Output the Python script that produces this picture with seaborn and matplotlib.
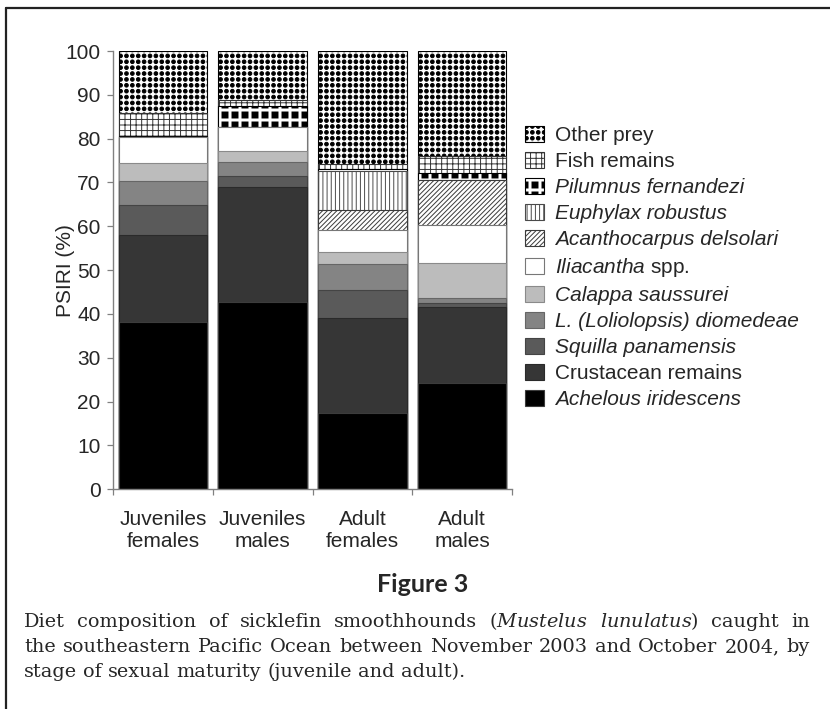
import numpy as np
import pandas as pd
import matplotlib
matplotlib.use("Agg")
import matplotlib.pyplot as plt
import matplotlib.hatch as mhatch
from matplotlib.path import Path
from matplotlib.patches import Patch
from matplotlib.lines import Line2D
import seaborn as sns

# ---------------------------------------------------------------- data
groups = ["Juveniles\nfemales", "Juveniles\nmales", "Adult\nfemales", "Adult\nmales"]

# prey categories, from the bottom of each stack to the top
prey = ["Achelous iridescens", "Crustacean remains", "Squilla panamensis",
        "L. (Loliolopsis) diomedeae", "Calappa saussurei", "Iliacantha spp.",
        "Acanthocarpus delsolari", "Euphylax robustus", "Pilumnus fernandezi",
        "Fish remains", "Other prey"]

achelous = [38.2, 42.7, 17.5, 24.2]
crustacean = [19.9, 26.3, 21.5, 17.3]
squilla = [6.8, 2.5, 6.5, 1.1]
loliolopsis = [5.4, 3.2, 5.8, 1.0]
calappa = [4.2, 2.5, 2.8, 8.0]
iliacantha = [5.9, 5.4, 5.1, 8.7]
acanthocarpus = [0.0, 0.0, 4.5, 10.3]
euphylax = [0.0, 0.0, 9.0, 0.0]
pilumnus = [0.2, 4.8, 0.3, 1.6]
fish = [5.3, 1.4, 1.2, 3.8]
other = [14.1, 11.2, 25.8, 24.0]

yticks = list(range(0, 101, 10))

caption_lines = [
    "Diet composition of sicklefin smoothhounds ($\\mathit{Mustelus}$ $\\mathit{lunulatus}$) caught in",
    "the southeastern Pacific Ocean between November 2003 and October 2004, by",
    "stage of sexual maturity (juvenile and adult).",
]


# ------------------------------------------------- custom fill patterns
class _GridShapes(mhatch.HatchPatternBase):
    """Filled shapes laid out on a square (non-staggered) grid."""
    char = None
    per_inch = 0
    size = 0.3
    shape_vertices = None
    shape_codes = None

    def __init__(self, hatch, density):
        self.num_rows = self.per_inch if self.char in hatch else 0
        self.num_vertices = self.num_rows * self.num_rows * len(self.shape_vertices)

    def set_vertices_and_codes(self, vertices, codes):
        n = self.num_rows
        step = 1.0 / n
        shape = self.shape_vertices * step * self.size
        vparts, cparts = [], []
        for r in range(n):
            for c in range(n):
                vparts.append(shape + [(c + 0.5) * step, (r + 0.5) * step])
                cparts.append(self.shape_codes)
        np.concatenate(vparts, out=vertices)
        np.concatenate(cparts, out=codes)


class GridDots(_GridShapes):
    char = "."
    per_inch = 17
    size = 0.31
    _c = Path.unit_circle()
    shape_vertices = _c.vertices
    shape_codes = _c.codes


class GridSquares(_GridShapes):
    char = "*"
    per_inch = 10
    size = 0.3
    shape_vertices = np.array([[-1, -1], [1, -1], [1, 1], [-1, 1], [-1, -1]], float)
    shape_codes = np.array([Path.MOVETO, Path.LINETO, Path.LINETO,
                            Path.LINETO, Path.CLOSEPOLY], dtype=Path.code_type)


mhatch._hatch_types[:] = [h for h in mhatch._hatch_types
                          if h not in (mhatch.SmallFilledCircles, mhatch.Stars)]
mhatch._hatch_types += [GridDots, GridSquares]

# ---------------------------------------------------------------- style
sns.set_style("ticks")
plt.rcParams["font.family"] = ["Liberation Sans", "DejaVu Sans"]
plt.rcParams["mathtext.fontset"] = "custom"
plt.rcParams["mathtext.rm"] = "Liberation Sans"
plt.rcParams["mathtext.it"] = "Liberation Sans:italic"
plt.rcParams["hatch.linewidth"] = 0.7

styles = {
    "Achelous iridescens":        dict(face="#000000", edge="#3c3c3c", hatch=None),
    "Crustacean remains":         dict(face="#363636", edge="#2a2a2a", hatch=None),
    "Squilla panamensis":         dict(face="#5a5a5a", edge="#444444", hatch=None),
    "L. (Loliolopsis) diomedeae": dict(face="#848484", edge="#666666", hatch=None),
    "Calappa saussurei":          dict(face="#bcbcbc", edge="#8a8a8a", hatch=None),
    "Iliacantha spp.":            dict(face="#ffffff", edge="#777777", hatch=None),
    "Acanthocarpus delsolari":    dict(face="#ffffff", edge="#3a3a3a", hatch="///////"),
    "Euphylax robustus":          dict(face="#ffffff", edge="#4a4a4a", hatch="||||"),
    "Pilumnus fernandezi":        dict(face="#ffffff", edge="#000000", hatch="*"),
    "Fish remains":               dict(face="#ffffff", edge="#333333", hatch="+++"),
    "Other prey":                 dict(face="#ffffff", edge="#000000", hatch="."),
}
legend_labels = {
    "Iliacantha spp.": "$\\mathit{Iliacantha}$ spp.",
}
upright = {"Crustacean remains", "Fish remains", "Other prey", "Iliacantha spp."}

# ---------------------------------------------------------------- table
df = pd.DataFrame(
    [achelous, crustacean, squilla, loliolopsis, calappa, iliacantha,
     acanthocarpus, euphylax, pilumnus, fish, other],
    index=prey, columns=groups).T
tops = df.cumsum(axis=1)

# ---------------------------------------------------------------- figure
W, H = 830, 709
fig = plt.figure(figsize=(W / 100, H / 100), dpi=100)
ax = fig.add_axes([113 / W, (H - 489.3) / H, 399 / W, 438.3 / H])

# stacked bars: draw each cumulative total from the top layer downwards
for name in reversed(prey):
    st = styles[name]
    sns.barplot(x=groups, y=tops[name].values, order=groups, ax=ax,
                color=st["face"], saturation=1, width=0.885,
                edgecolor=st["edge"], linewidth=0.8, errorbar=None)
    for p in ax.containers[-1]:
        if st["hatch"]:
            p.set_hatch(st["hatch"])
            if hasattr(p, "set_hatch_linewidth"):
                p.set_hatch_linewidth(0.7)

ax.set_xlim(-0.5, 3.5)
ax.set_ylim(0, 100)
ax.set_yticks(yticks)
ax.set_xticks([-0.5, 0.5, 1.5, 2.5, 3.5])
ax.set_xticklabels([])
ax.set_xticks(range(len(groups)), labels=groups, minor=True)
ax.tick_params(axis="x", which="minor", length=0, pad=15, labelsize=15)
ax.tick_params(axis="x", which="major", length=4.5, width=0.9, color="#808080")
ax.tick_params(axis="y", length=4, width=0.9, color="#808080", pad=5, labelsize=15)
ax.set_xlabel("")
ax.set_ylabel("PSIRI (%)", fontsize=15)
ax.yaxis.set_label_coords(-0.095, 0.5)
sns.despine(ax=ax)
for s in ("left", "bottom"):
    ax.spines[s].set_color("#808080")
    ax.spines[s].set_linewidth(1.0)

# legend, top entry first
handles = [Patch(facecolor=styles[n]["face"], edgecolor=styles[n]["edge"],
                 hatch=styles[n]["hatch"], linewidth=0.8) for n in reversed(prey)]
labels = [legend_labels.get(n, n) for n in reversed(prey)]
leg = fig.legend(handles, labels, loc="upper left",
                 bbox_to_anchor=(525 / W, 1 - 126 / H), frameon=False,
                 fontsize=15, handlelength=0.92, handleheight=0.82,
                 handletextpad=0.5, labelspacing=0.32, borderpad=0,
                 borderaxespad=0)
for n, t in zip(reversed(prey), leg.get_texts()):
    if n not in upright:
        t.set_fontstyle("italic")

# figure caption
fig.text(423 / W, 1 - 585 / H, "Figure 3", ha="center", va="center",
         fontsize=18, fontweight="bold", family=["Lato", "DejaVu Sans"])

renderer = fig.canvas.get_renderer()
x0, x1 = 24, 810
baselines = [627, 652, 677]
cap_kw = dict(family="DejaVu Serif", math_fontfamily="dejavuserif")

# size the caption so that a full line fills the text column naturally
probe = fig.text(0, 0, caption_lines[1], fontsize=13, **cap_kw)
cap_size = 13 * (x1 - x0) / probe.get_window_extent(renderer).width * 0.985
probe.remove()
sp = fig.text(0, 0, "a b", fontsize=cap_size, **cap_kw)
ab = fig.text(0, 0, "ab", fontsize=cap_size, **cap_kw)
space_w = sp.get_window_extent(renderer).width - ab.get_window_extent(renderer).width
sp.remove()
ab.remove()

for i, (line, yb) in enumerate(zip(caption_lines, baselines)):
    words = line.split(" ")
    texts = [fig.text(0, 1 - yb / H, w, ha="left", va="baseline",
                      fontsize=cap_size, **cap_kw) for w in words]
    widths = [t.get_window_extent(renderer).width for t in texts]
    if i < len(caption_lines) - 1:
        gap = (x1 - x0 - sum(widths)) / (len(words) - 1)
    else:
        gap = space_w
    x = x0
    for t, w in zip(texts, widths):
        t.set_x(x / W)
        x += w + gap

# page frame
fig.add_artist(Line2D([6 / W, 6 / W], [0, 1 - 8 / H], transform=fig.transFigure,
                      color="#222222", lw=1.6))
fig.add_artist(Line2D([6 / W, 1], [1 - 8 / H, 1 - 8 / H], transform=fig.transFigure,
                      color="#222222", lw=1.6))

fig.savefig("out.png", dpi=100)
